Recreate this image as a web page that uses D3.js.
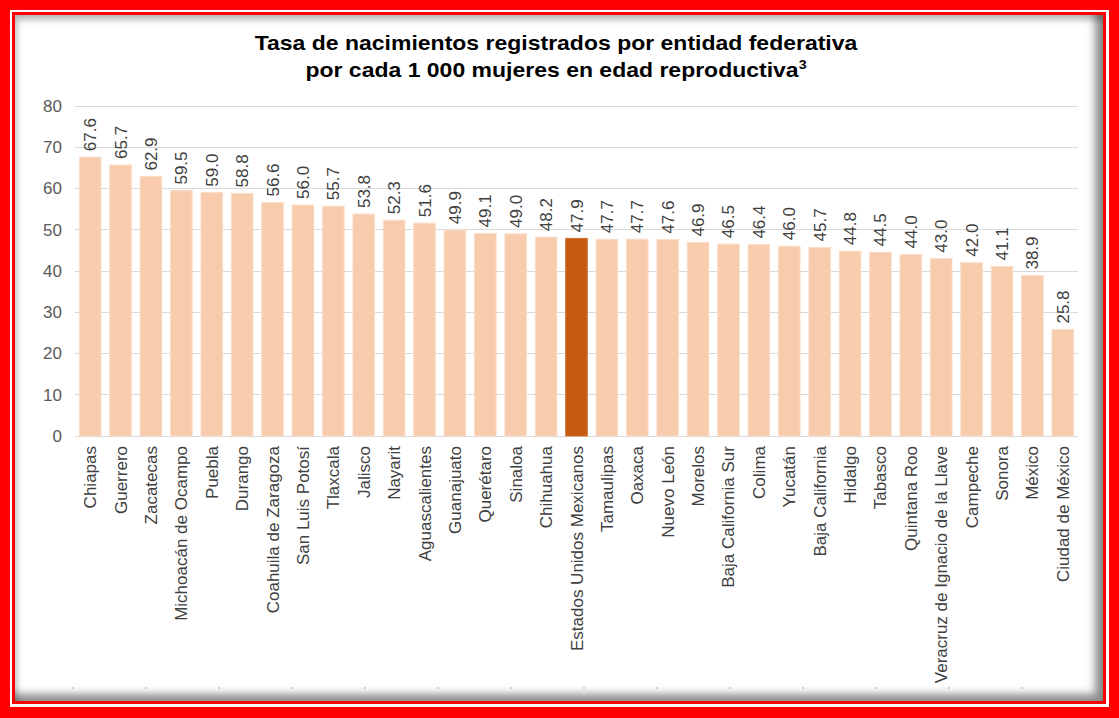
<!DOCTYPE html>
<html><head><meta charset="utf-8">
<script src="https://cdn.jsdelivr.net/npm/d3@7"></script>
<style>
html,body{margin:0;padding:0;width:1119px;height:718px;overflow:hidden;background:#ff0000;}
#ring{position:absolute;left:10px;top:10px;width:1099px;height:697px;background:#fff;}
#red2{position:absolute;left:12px;top:12px;width:1094px;height:692px;background:#ff0000;}
#panel{position:absolute;left:15px;top:15px;width:1088px;height:686px;background:#fff;
 box-shadow: inset -8px -7px 8px rgba(0,0,0,0.45), inset 2px 5px 6px rgba(0,0,0,0.28);}
svg{position:absolute;left:0;top:0;}
</style></head>
<body>
<div id="ring"></div><div id="red2"></div><div id="panel"></div>
<svg id="chart" width="1119" height="718"></svg>
<script>
const categories = ["Chiapas","Guerrero","Zacatecas","Michoacán de Ocampo","Puebla","Durango","Coahuila de Zaragoza","San Luis Potosí","Tlaxcala","Jalisco","Nayarit","Aguascalientes","Guanajuato","Querétaro","Sinaloa","Chihuahua","Estados Unidos Mexicanos","Tamaulipas","Oaxaca","Nuevo León","Morelos","Baja California Sur","Colima","Yucatán","Baja California","Hidalgo","Tabasco","Quintana Roo","Veracruz de Ignacio de la Llave","Campeche","Sonora","México","Ciudad de México"];
const values = [67.6,65.7,62.9,59.5,59.0,58.8,56.6,56.0,55.7,53.8,52.3,51.6,49.9,49.1,49.0,48.2,47.9,47.7,47.7,47.6,46.9,46.5,46.4,46.0,45.7,44.8,44.5,44.0,43.0,42.0,41.1,38.9,25.8];
const highlight = "Estados Unidos Mexicanos";
const yTicks = [0,10,20,30,40,50,60,70,80];
const titleLine1 = "Tasa de nacimientos registrados por entidad federativa";
const titleLine2 = "por cada 1 000 mujeres en edad reproductiva";
const titleSup = "3";

const svg = d3.select("#chart");
const font = "'Liberation Sans', Arial, sans-serif";
const x = d3.scaleBand().domain(categories).range([75,1078]).paddingInner(0.29).paddingOuter(0.145);
const y = d3.scaleLinear().domain([0,80]).range([436,106]);

// gridlines
svg.append("g").selectAll("line").data(yTicks).join("line")
  .attr("x1",75).attr("x2",1078).attr("y1",d=>y(d)).attr("y2",d=>y(d))
  .attr("stroke","#d9d9d9").attr("stroke-width",1).attr("shape-rendering","crispEdges");

// y axis labels
const yAxis = svg.append("g").attr("transform","translate(62,0)")
  .call(d3.axisLeft(y).tickValues(yTicks).tickSize(0).tickPadding(0));
yAxis.select(".domain").remove();
yAxis.selectAll("text").attr("font-family",font).attr("font-size",17).attr("fill","#595959");

// bars
svg.append("g").selectAll("rect").data(categories).join("rect")
  .attr("x",d=>x(d)).attr("width",x.bandwidth())
  .attr("y",(d,i)=>y(values[i])).attr("height",(d,i)=>y(0)-y(values[i]))
  .attr("fill",d=>d===highlight?"#c55a11":"#f8cbad")
  .attr("stroke",d=>d===highlight?"#d4702c":"#fbdcc7").attr("stroke-width",1);

// value labels
svg.append("g").selectAll("text").data(categories).join("text")
  .attr("transform",(d,i)=>`translate(${x(d)+x.bandwidth()/2+6},${y(values[i])-6}) rotate(-90)`)
  .attr("font-family",font).attr("font-size",17).attr("fill","#404040")
  .text((d,i)=>values[i].toFixed(1));

// category labels
svg.append("g").selectAll("text").data(categories).join("text")
  .attr("transform",d=>`translate(${x(d)+x.bandwidth()/2+6},446) rotate(-90)`)
  .attr("text-anchor","end")
  .attr("font-family",font).attr("font-size",17).attr("fill","#404040")
  .text(d=>d);

// title
const t = svg.append("g").attr("transform","translate(556,0) scale(1.095,1)")
  .append("text").attr("text-anchor","middle").attr("font-family",font)
  .attr("font-weight","bold").attr("font-size",21).attr("fill","#000");
t.append("tspan").attr("x",0).attr("y",50).text(titleLine1);
t.append("tspan").attr("x",0).attr("y",77).text(titleLine2)
  .append("tspan").attr("font-size",13).attr("dy",-8).text(titleSup);

// faint dotted line at bottom
svg.append("line").attr("x1",72).attr("x2",1030).attr("y1",688).attr("y2",688)
  .attr("stroke","#d0d0d0").attr("stroke-width",2).attr("stroke-dasharray","2,71");
</script>
</body></html>
